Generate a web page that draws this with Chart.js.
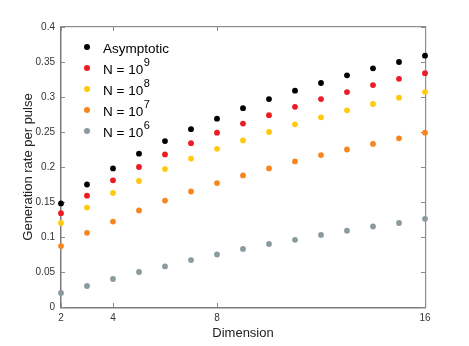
<!DOCTYPE html>
<html>
<head>
<meta charset="utf-8">
<script src="https://cdn.jsdelivr.net/npm/chart.js@4"></script>
<style>
  html, body { margin: 0; padding: 0; background: #fff; }
  #wrap { width: 469px; height: 346px; }
</style>
</head>
<body>
<div id="wrap"><canvas id="grafico" width="469" height="346"></canvas></div>
<script>
// Dados
const dims = [2, 3, 4, 5, 6, 7, 8, 9, 10, 11, 12, 13, 14, 15, 16];
const asymptotic = [0.148, 0.175, 0.198, 0.219, 0.237, 0.254, 0.269, 0.284, 0.297, 0.309, 0.320, 0.331, 0.341, 0.350, 0.359];
const n9 = [0.134, 0.159, 0.181, 0.200, 0.218, 0.234, 0.249, 0.262, 0.274, 0.286, 0.297, 0.307, 0.317, 0.326, 0.334];
const n8 = [0.120, 0.142, 0.163, 0.180, 0.197, 0.212, 0.226, 0.238, 0.250, 0.261, 0.271, 0.281, 0.290, 0.299, 0.307];
const n7 = [0.087, 0.106, 0.122, 0.138, 0.152, 0.165, 0.177, 0.188, 0.198, 0.208, 0.217, 0.225, 0.233, 0.241, 0.249];
const n6 = [0.020, 0.030, 0.040, 0.050, 0.058, 0.067, 0.075, 0.083, 0.090, 0.096, 0.103, 0.109, 0.115, 0.120, 0.126];

const xTicks = [2, 4, 8, 16];
const yTicks = [0, 0.05, 0.1, 0.15, 0.2, 0.25, 0.3, 0.35, 0.4];
const nomes = ['Asymptotic', 'N = 10^9', 'N = 10^8', 'N = 10^7', 'N = 10^6'];
const cores = ['#000000', '#ec1c24', '#ffc90e', '#f7861e', '#8a9a9e'];
const series = [asymptotic, n9, n8, n7, n6];

const fonte = '"Liberation Sans", Arial, sans-serif';

const datasets = series.map((vals, i) => ({
  label: nomes[i],
  data: vals.map((v, j) => ({ x: dims[j], y: v })),
  showLine: false,
  clip: false,
  pointRadius: 2.9,
  pointHoverRadius: 2.9,
  pointBorderWidth: 0,
  backgroundColor: cores[i],
  borderColor: cores[i]
}));

// moldura e ticks para dentro (antes dos pontos)
const moldura = {
  id: 'moldura',
  beforeDatasetsDraw(chart) {
    const { ctx, chartArea: a, scales } = chart;
    const L = Math.round(a.left), R = Math.round(a.right), T = Math.round(a.top), B = Math.round(a.bottom);
    ctx.save();
    ctx.fillStyle = '#7a7a7a';
    ctx.fillRect(L - 1, T, 1.5, B - T + 1);
    ctx.fillRect(L - 1, B, R - L + 2, 1.5);
    ctx.fillStyle = '#8c8c8c';
    ctx.fillRect(L - 1, T - 1, R - L + 2, 1.2);
    ctx.fillRect(R, T - 1, 1.2, B - T + 2);
    yTicks.forEach(v => {
      const y = Math.round(scales.y.getPixelForValue(v));
      ctx.fillRect(L, y, 4, 1);
      ctx.fillRect(R - 4, y, 4, 1);
    });
    xTicks.forEach(v => {
      const x = Math.round(scales.x.getPixelForValue(v));
      ctx.fillRect(x, B - 4, 1, 4);
      ctx.fillRect(x, T, 1, 4);
    });
    ctx.restore();
  },
  // legenda com expoentes
  afterDraw(chart) {
    const { ctx, chartArea: a } = chart;
    ctx.save();
    const x0 = a.left + 26, y0 = a.top + 20, passo = 21;
    nomes.forEach((nome, i) => {
      const y = y0 + i * passo;
      ctx.fillStyle = cores[i];
      ctx.beginPath();
      ctx.arc(x0, y, 3, 0, Math.PI * 2);
      ctx.fill();
      ctx.fillStyle = '#000';
      ctx.textBaseline = 'middle';
      ctx.textAlign = 'left';
      const partes = nome.split('^');
      ctx.font = '13.5px ' + fonte;
      ctx.fillText(partes[0], x0 + 16, y + 2);
      if (partes[1]) {
        const w = ctx.measureText(partes[0]).width;
        ctx.font = '11px ' + fonte;
        ctx.fillText(partes[1], x0 + 16 + w + 0.5, y - 5);
      }
    });
    ctx.restore();
  }
};

const config = {
  type: 'scatter',
  data: { datasets },
  options: {
    responsive: false,
    animation: false,
    layout: { padding: { top: 27, right: 44, left: 0, bottom: 0 } },
    plugins: { legend: { display: false }, tooltip: { enabled: false } },
    scales: {
      x: {
        type: 'linear',
        min: 2, max: 16,
        afterBuildTicks: s => { s.ticks = xTicks.map(v => ({ value: v })); },
        afterFit: s => { s.height = 39; },
        grid: { display: false, drawTicks: false },
        border: { display: false },
        ticks: { color: '#333', font: { size: 10, family: fonte }, padding: 5 },
        title: { display: true, text: 'Dimension', color: '#222', font: { size: 13, family: fonte }, padding: { top: 0, bottom: 5 } }
      },
      y: {
        min: 0, max: 0.4,
        afterBuildTicks: s => { s.ticks = yTicks.map(v => ({ value: v })); },
        afterFit: s => { s.width = 61; },
        grid: { display: false, drawTicks: false },
        border: { display: false },
        ticks: { color: '#333', font: { size: 10, family: fonte }, padding: 6, callback: v => String(+v.toFixed(2)) },
        title: { display: true, text: 'Generation rate per pulse', color: '#222', font: { size: 13, family: fonte }, padding: { top: 21, bottom: 0 } }
      }
    }
  },
  plugins: [moldura]
};

const ctx = document.getElementById('grafico');
if (ctx) {
  new Chart(ctx, config);
}
</script>
</body>
</html>
